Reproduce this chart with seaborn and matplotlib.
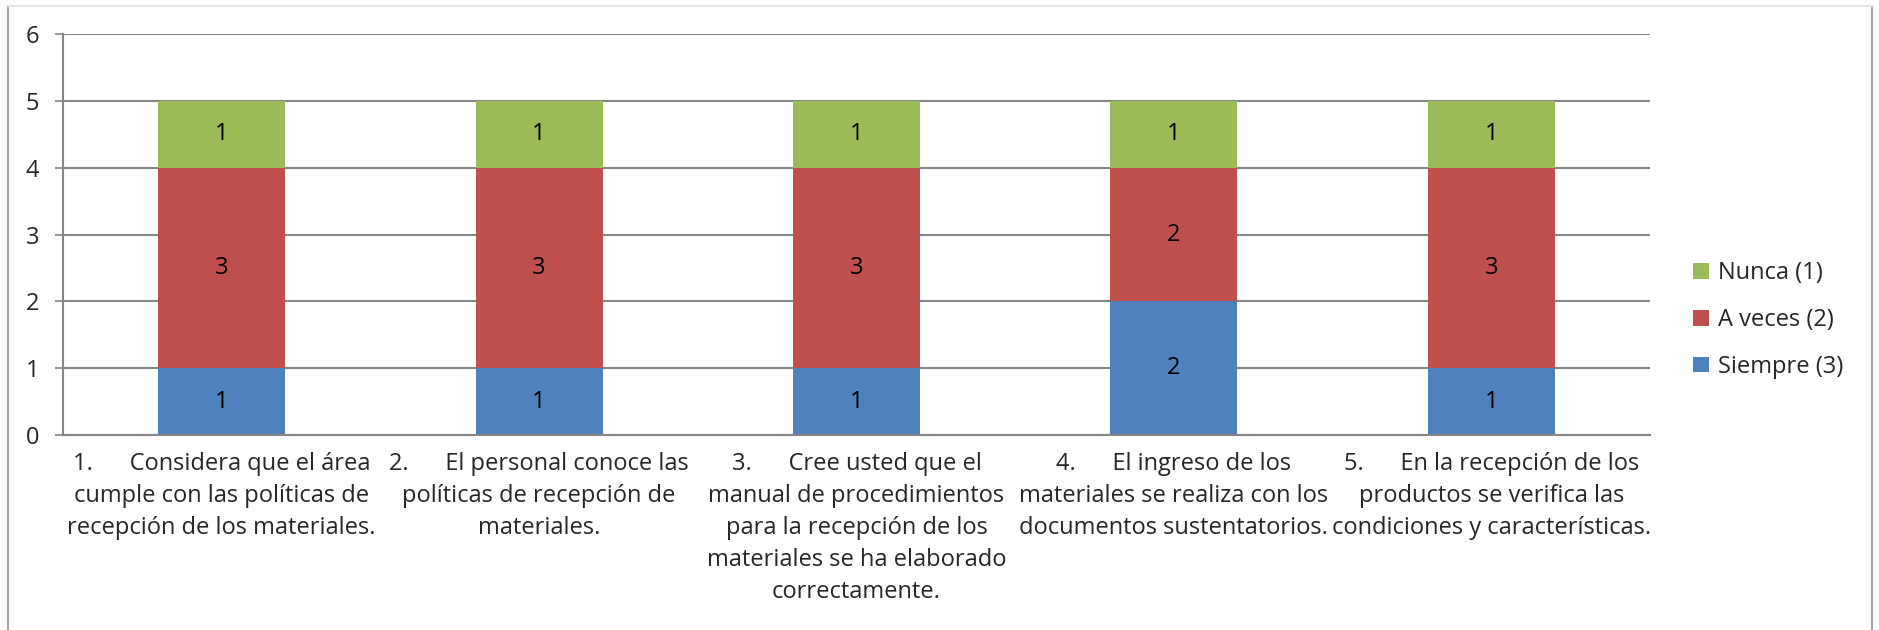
import numpy as np
import pandas as pd
import matplotlib
matplotlib.use('Agg')
import matplotlib.pyplot as plt
from matplotlib.lines import Line2D
from matplotlib.patches import Patch
import seaborn as sns

# datos del gráfico
preguntas = [
    '1.      Considera que el área\ncumple con las políticas de\nrecepción de los materiales.',
    '2.      El personal conoce las\npolíticas de recepción de\nmateriales.',
    '3.      Cree usted que el\nmanual de procedimientos\npara la recepción de los\nmateriales se ha elaborado\ncorrectamente.',
    '4.      El ingreso de los\nmateriales se realiza con los\ndocumentos sustentatorios.',
    '5.      En la recepción de los\nproductos se verifica las\ncondiciones y características.',
]
codigos = ['P1', 'P2', 'P3', 'P4', 'P5']
siempre = [1, 1, 1, 2, 1]
a_veces = [3, 3, 3, 2, 3]
nunca = [1, 1, 1, 1, 1]
series = ['Siempre (3)', 'A veces (2)', 'Nunca (1)']
colores = ['#4F81BD', '#C0504D', '#9BBB59']
y_ticks = [0, 1, 2, 3, 4, 5, 6]

sns.set_theme(style='white')
plt.rcParams['font.family'] = ['Open Sans', 'DejaVu Sans']
FS = 17
GRIS = '#868686'

df = pd.DataFrame({'pregunta': codigos, 'Siempre (3)': siempre,
                   'A veces (2)': a_veces, 'Nunca (1)': nunca})

fig = plt.figure(figsize=(18.79, 6.30), dpi=100)
ax = fig.add_axes([63 / 1879, 1 - 435 / 630, (1650 - 63) / 1879, (435 - 34) / 630])

# barras apiladas: cada serie empieza donde termina la anterior
base = np.zeros(len(codigos))
for serie, color in zip(series, colores):
    sns.barplot(data=df, x='pregunta', y=serie, color=color, width=0.4,
                bottom=base, saturation=1, ax=ax, zorder=3, linewidth=0, edgecolor='none')
    cont = ax.containers[-1]
    ax.bar_label(cont, labels=[str(v) for v in df[serie]], label_type='center',
                 fontsize=FS, color='black')
    base = base + df[serie].values

ax.set_ylim(0, 6)
ax.set_xlim(-0.5, len(codigos) - 0.5)
ax.set_yticks(y_ticks)
ax.set_yticklabels([str(t) for t in y_ticks], fontsize=FS)
ax.set_xticks(range(len(codigos)))
ax.set_xticklabels(preguntas, fontsize=FS, linespacing=1.45, va='top')
ax.set_xticks(np.arange(-0.5, len(codigos), 1), minor=True)
ax.tick_params(axis='x', which='major', length=0, pad=12)
ax.tick_params(axis='x', which='minor', length=6, color=GRIS, width=1.2, direction='out')
ax.tick_params(axis='y', length=6, color=GRIS, width=1.2, pad=11, direction='out', left=True)
ax.set_xlabel('')
ax.set_ylabel('')
ax.yaxis.grid(True, color=GRIS, linewidth=1.5, zorder=0)
ax.set_axisbelow(True)
for s in ['top', 'right']:
    ax.spines[s].set_visible(False)
for s in ['left', 'bottom']:
    ax.spines[s].set_color(GRIS)
    ax.spines[s].set_linewidth(1.5)
    ax.spines[s].set_zorder(4)

# leyenda
handles = [Patch(facecolor=c, edgecolor='none') for c in colores][::-1]
fig.legend(handles, series[::-1], loc='center left', bbox_to_anchor=(1672 / 1879, 1 - 320 / 630),
           frameon=False, fontsize=FS, handlelength=0.65, handleheight=0.65,
           handletextpad=0.4, labelspacing=0.97)

# borde del área del gráfico
fig.add_artist(Line2D([8 / 1879, 8 / 1879], [0, 1 - 6 / 630], color='#A6A6A6', lw=1.5))
fig.add_artist(Line2D([1872 / 1879, 1872 / 1879], [0, 1 - 6 / 630], color='#A6A6A6', lw=1.5))
fig.add_artist(Line2D([8 / 1879, 1872 / 1879], [1 - 6 / 630, 1 - 6 / 630], color='#E6E6E6', lw=1.5))

fig.savefig('out.png', dpi=100, facecolor='white')
